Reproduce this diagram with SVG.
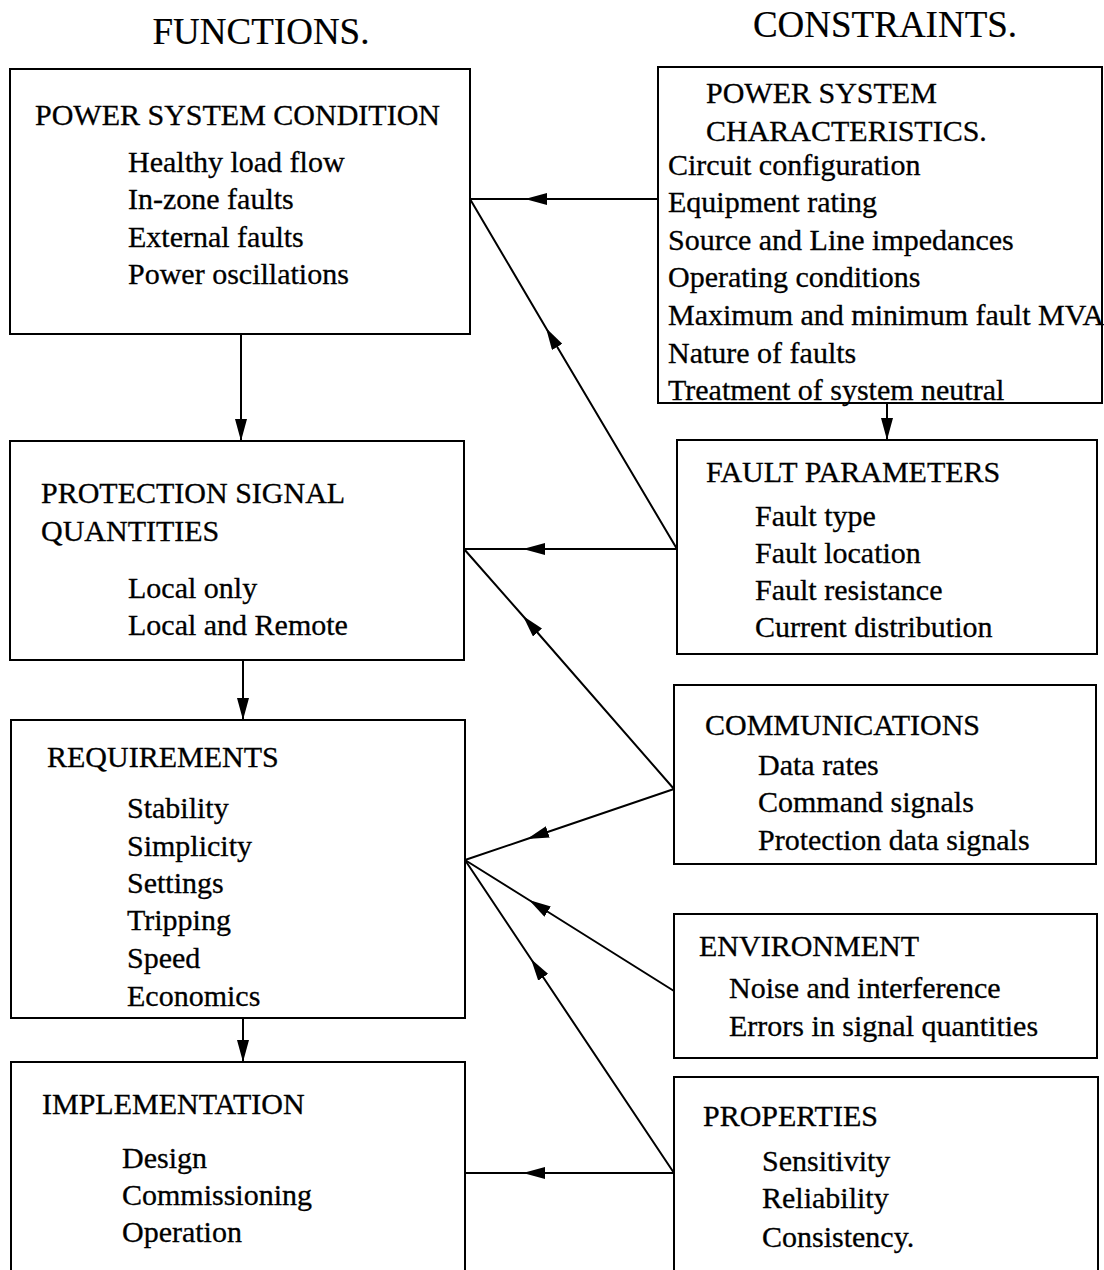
<svg xmlns="http://www.w3.org/2000/svg" width="1104" height="1270" viewBox="0 0 1104 1270" font-family="'Liberation Serif', 'DejaVu Serif', 'Times New Roman', serif">
  <style>
    .box { fill: #fff; stroke: #000; stroke-width: 2; }
    .t { font-family: 'Liberation Serif', 'DejaVu Serif', 'Times New Roman', serif; font-size: 30px; fill: #000; stroke: #000; stroke-width: 0.3; }
    .hdr { font-family: 'Liberation Serif', 'DejaVu Serif', 'Times New Roman', serif; font-size: 37px; fill: #000; stroke: #000; stroke-width: 0.2; }
    .wire { fill: none; stroke: #000; stroke-width: 2; }
    .flow { marker-mid: url(#arrow); }
    .down { marker-end: url(#arrow); }
  </style>
  <defs>
    <marker id="arrow" viewBox="0 0 22 12" refX="22" refY="6" markerWidth="22" markerHeight="12" markerUnits="userSpaceOnUse" orient="auto">
      <path d="M0,0 L22,6 L0,12 z" fill="#000"/>
    </marker>
  </defs>

  <rect width="1104" height="1270" fill="#fff"/>

  <text class="hdr" x="261" y="44" text-anchor="middle">FUNCTIONS.</text>
  <text class="hdr" x="885" y="37" text-anchor="middle">CONSTRAINTS.</text>

  <!-- function column -->
  <g id="power-system-condition">
    <rect class="box" x="10" y="69" width="460" height="265"/>
    <text class="t" x="35" y="125">POWER SYSTEM CONDITION</text>
    <text class="t" x="128" y="172">Healthy load flow</text>
    <text class="t" x="128" y="209">In-zone faults</text>
    <text class="t" x="128" y="247">External faults</text>
    <text class="t" x="128" y="284">Power oscillations</text>
  </g>

  <g id="protection-signal-quantities">
    <rect class="box" x="10" y="441" width="454" height="219"/>
    <text class="t" x="41" y="503">PROTECTION SIGNAL</text>
    <text class="t" x="41" y="541">QUANTITIES</text>
    <text class="t" x="128" y="598">Local only</text>
    <text class="t" x="128" y="635">Local and Remote</text>
  </g>

  <g id="requirements">
    <rect class="box" x="11" y="720" width="454" height="298"/>
    <text class="t" x="47" y="767">REQUIREMENTS</text>
    <text class="t" x="127" y="818">Stability</text>
    <text class="t" x="127" y="856">Simplicity</text>
    <text class="t" x="127" y="893">Settings</text>
    <text class="t" x="127" y="930">Tripping</text>
    <text class="t" x="127" y="968">Speed</text>
    <text class="t" x="127" y="1006">Economics</text>
  </g>

  <g id="implementation">
    <rect class="box" x="11" y="1062" width="454" height="220"/>
    <text class="t" x="42" y="1114">IMPLEMENTATION</text>
    <text class="t" x="122" y="1168">Design</text>
    <text class="t" x="122" y="1205">Commissioning</text>
    <text class="t" x="122" y="1242">Operation</text>
  </g>

  <!-- constraint column -->
  <g id="power-system-characteristics">
    <rect class="box" x="658" y="67" width="444" height="336"/>
    <text class="t" x="706" y="103">POWER SYSTEM</text>
    <text class="t" x="706" y="141">CHARACTERISTICS.</text>
    <text class="t" x="668" y="175">Circuit configuration</text>
    <text class="t" x="668" y="212">Equipment rating</text>
    <text class="t" x="668" y="250">Source and Line impedances</text>
    <text class="t" x="668" y="287">Operating conditions</text>
    <text class="t" x="668" y="325">Maximum and minimum fault MVA</text>
    <text class="t" x="668" y="363">Nature of faults</text>
    <text class="t" x="668" y="400">Treatment of system neutral</text>
  </g>

  <g id="fault-parameters">
    <rect class="box" x="677" y="440" width="420" height="214"/>
    <text class="t" x="706" y="482">FAULT PARAMETERS</text>
    <text class="t" x="755" y="526">Fault type</text>
    <text class="t" x="755" y="563">Fault location</text>
    <text class="t" x="755" y="600">Fault resistance</text>
    <text class="t" x="755" y="637">Current distribution</text>
  </g>

  <g id="communications">
    <rect class="box" x="674" y="685" width="422" height="179"/>
    <text class="t" x="705" y="735">COMMUNICATIONS</text>
    <text class="t" x="758" y="775">Data rates</text>
    <text class="t" x="758" y="812">Command signals</text>
    <text class="t" x="758" y="850">Protection data signals</text>
  </g>

  <g id="environment">
    <rect class="box" x="674" y="914" width="423" height="144"/>
    <text class="t" x="699" y="956">ENVIRONMENT</text>
    <text class="t" x="729" y="998">Noise and interference</text>
    <text class="t" x="729" y="1036">Errors in signal quantities</text>
  </g>

  <g id="properties">
    <rect class="box" x="674" y="1077" width="424" height="205"/>
    <text class="t" x="703" y="1126">PROPERTIES</text>
    <text class="t" x="762" y="1171">Sensitivity</text>
    <text class="t" x="762" y="1208">Reliability</text>
    <text class="t" x="762" y="1247">Consistency.</text>
  </g>

  <g id="connectors">
    <!-- vertical flow down the function column -->
    <path class="wire down" d="M241,334 L241,441"/>
    <path class="wire down" d="M243,660 L243,720"/>
    <path class="wire down" d="M243,1018 L243,1062"/>
    <path class="wire down" d="M887,403 L887,440"/>
    <!-- constraints feeding the functions -->
    <path class="wire flow" d="M658,199 L525,199 L470,199"/>
    <path class="wire flow" d="M677,549 L546,328 L470,199"/>
    <path class="wire flow" d="M677,549 L523,549 L464,549"/>
    <path class="wire flow" d="M674,789 L523,616 L464,549"/>
    <path class="wire flow" d="M674,789 L527,839 L465,860"/>
    <path class="wire flow" d="M674,991 L529,900 L465,860"/>
    <path class="wire flow" d="M674,1173 L531,959 L465,860"/>
    <path class="wire flow" d="M674,1173 L523,1173 L465,1173"/>
  </g>
</svg>
